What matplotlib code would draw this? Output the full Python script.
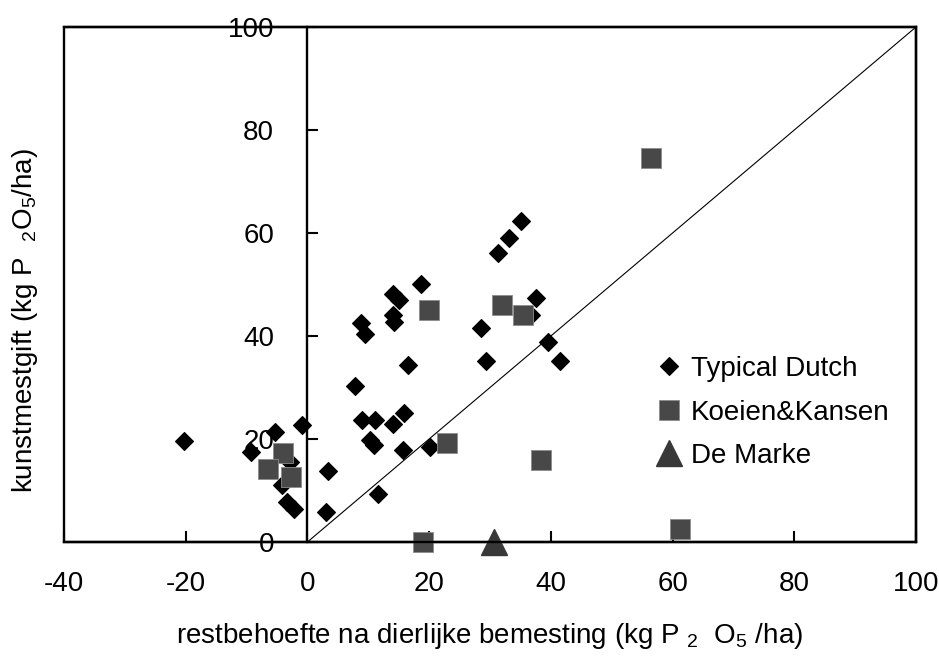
import numpy as np
import matplotlib
matplotlib.use("Agg")
import matplotlib.pyplot as plt
from matplotlib.patches import Rectangle

plt.rcParams['font.family'] = ['Liberation Sans', 'DejaVu Sans']
plt.rcParams['mathtext.fontset'] = 'custom'
plt.rcParams['mathtext.rm'] = 'Liberation Sans'
plt.rcParams['mathtext.it'] = 'Liberation Sans:italic'
plt.rcParams['mathtext.default'] = 'regular'
plt.rcParams['axes.unicode_minus'] = False

# Typical Dutch (ruitjes)
dutch_x = [-20.2, -9.2, -5.3, -0.9, -2.8, -4.2, -3.3, -2.2, 3.3, 3.0,
           18.7, 14.1, 15.0, 14.1, 14.3, 8.8, 9.5, 16.5, 7.8, 8.9,
           11.1, 14.1, 15.8, 10.3, 11.0, 15.7, 20.2, 11.6, 35.1, 33.2,
           31.3, 37.6, 36.8, 28.5, 29.4, 39.5, 41.5]
dutch_y = [19.6, 17.4, 21.4, 22.7, 15.6, 11.1, 7.8, 6.5, 13.7, 5.9,
           50.1, 48.2, 47.0, 44.1, 42.8, 42.5, 40.4, 34.4, 30.2, 23.7,
           23.6, 22.9, 25.1, 19.8, 18.9, 17.9, 18.4, 9.3, 62.4, 59.0,
           56.1, 47.3, 44.1, 41.5, 35.1, 38.9, 35.1]

# Koeien&Kansen (vierkantjes)
kk_x = [-4.0, -6.4, -2.7, 19.9, 23.0, 19.0, 32.0, 35.4, 56.5, 38.4, 61.3]
kk_y = [17.2, 14.2, 12.6, 45.0, 19.3, 0.0, 46.0, 44.1, 74.6, 15.9, 2.5]

# De Marke
marke_x = [30.6]
marke_y = [0.0]

xticks = [-40, -20, 0, 20, 40, 60, 80, 100]
yticks = [0, 20, 40, 60, 80, 100]

fig = plt.figure(figsize=(9.39, 6.6), dpi=100)
ax = fig.add_axes([64/939, 118/660, 852/939, 515/660])
ax.set_xlim(-40, 100)
ax.set_ylim(0, 100)

# 1:1 lijn
ax.axline((0, 0), slope=1, color="black", lw=0.8)

ax.plot(dutch_x, dutch_y, "D", ms=9.2, color="black", mec="black", mew=0.8,
        ls="none", label="Typical Dutch", clip_on=False, zorder=3)
ax.plot(kk_x, kk_y, "s", ms=14, color="#484848", mec="#8c8c8c", mew=0.6,
        ls="none", label="Koeien&Kansen", clip_on=False, zorder=4)
ax.plot(marke_x, marke_y, "^", ms=19.4, color="#383838", mec="#383838",
        ls="none", label="De Marke", clip_on=False, zorder=5)

# assen
ax.spines['left'].set_position(('data', 0))
for s in ['left', 'right', 'top', 'bottom']:
    ax.spines[s].set_linewidth(1.7)
ax.add_patch(Rectangle((0, 0), 1, 1, transform=ax.transAxes, fill=False,
                       lw=1.7, ec="black", clip_on=False, zorder=6))

ax.set_xticks(xticks)
ax.set_yticks(yticks)
ax.tick_params(axis='x', direction='in', length=8, width=1.5, pad=21, labelsize=20)
ax.tick_params(axis='y', direction='in', length=8, width=1.5, pad=24, labelsize=20)

fig.text(25/939, 0.5 + 9/660,
         "kunstmestgift (kg P  $_{2}$O$_{5}$/ha)",
         rotation=90, ha="center", va="center", fontsize=20)
fig.text(490/939, (660-636)/660,
         "restbehoefte na dierlijke bemesting (kg P $_{2}$  O$_{5}$ /ha)",
         ha="center", va="center", fontsize=20)

ax.legend(loc="upper left", bbox_to_anchor=(655/939, (660-356)/660),
          bbox_transform=fig.transFigure, frameon=False, fontsize=20,
          handlelength=1.0, handletextpad=0.3, labelspacing=0.63,
          borderpad=0, borderaxespad=0)

plt.savefig("out.png", dpi=100)
